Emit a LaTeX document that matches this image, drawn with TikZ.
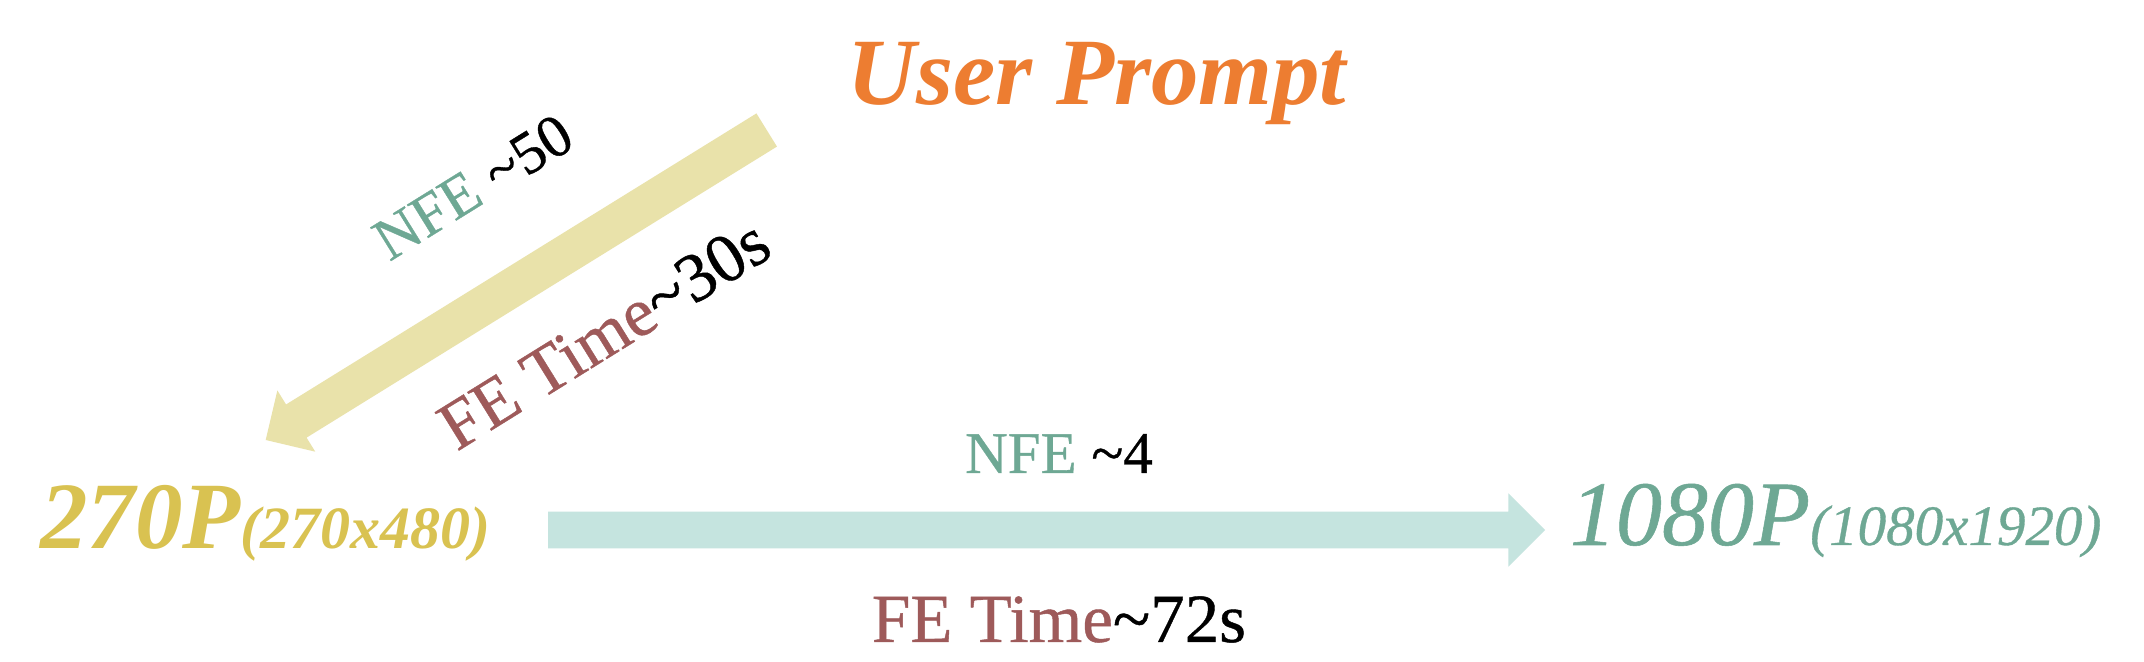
\documentclass[tikz,border=0pt]{standalone}
\usepackage{fontspec}
\setmainfont{Liberation Serif}
\newfontfamily\lblfont[FakeBold=0.6]{Liberation Serif}
\usetikzlibrary{calc}
\definecolor{orangeC}{HTML}{ED7D31}
\definecolor{yarrowC}{HTML}{E9E2AA}
\definecolor{tarrowC}{HTML}{C5E4DF}
\definecolor{goldC}{HTML}{D9C251}
\definecolor{tealC}{HTML}{6EA894}
\definecolor{brownC}{HTML}{9E5A5A}
\newcommand{\fsz}[1]{\fontsize{#1}{#1}\selectfont}
\begin{document}
\begin{tikzpicture}[x=0.5pt,y=-0.5pt,
  lbl/.style={inner sep=0pt, outer sep=0pt}]
\fill[white] (0,0) rectangle (2144,662);
\useasboundingbox (0,0) rectangle (2144,662);

% texts
\node[lbl, anchor=base, text=orangeC, font={\bfseries\itshape\fsz{47.5}}] (prompt) at (1097,105) {User Prompt};
\node[lbl, anchor=base west, text=goldC, font={\bfseries\itshape}] (low) at (40,549) {{\fsz{47.5}270P}{\fsz{30}(270x480)}};
\node[lbl, anchor=base west, text=tealC, font={\lblfont\itshape}] (high) at (1570,545) {{\fsz{46}1080P}{\fsz{28.5}(1080x1920)}};

% diagonal arrow
\coordinate (ytail) at (766.7,130);
\coordinate (ytip) at (265.7,440);
\coordinate (yhb) at ($(ytip)!18pt!(ytail)$);
\fill[yarrowC] ($(ytail)!9.75pt!90:(ytip)$) -- ($(yhb)!9.75pt!90:(ytip)$) -- ($(yhb)!18pt!90:(ytip)$) -- (ytip)
  -- ($(yhb)!18pt!-90:(ytip)$) -- ($(yhb)!9.75pt!-90:(ytip)$) -- ($(ytail)!9.75pt!-90:(ytip)$) -- cycle;

% horizontal arrow
\coordinate (htail) at (548,530);
\coordinate (htip) at (1545,530);
\coordinate (hhb) at ($(htip)!18.3pt!(htail)$);
\fill[tarrowC] ($(htail)!9.2pt!90:(htip)$) -- ($(hhb)!9.2pt!90:(htip)$) -- ($(hhb)!18.3pt!90:(htip)$) -- (htip)
  -- ($(hhb)!18.3pt!-90:(htip)$) -- ($(hhb)!9.2pt!-90:(htip)$) -- ($(htail)!9.2pt!-90:(htip)$) -- cycle;

% labels
\node[lbl, rotate=31.8, font={\lblfont\fsz{30}}] (nfe1) at (473,187) {\textcolor{tealC}{NFE} \textasciitilde50};
\node[lbl, rotate=31.8, font={\lblfont\fsz{34.5}}] (fe1) at (604,334) {\textcolor{brownC}{FE Time}\textasciitilde30s};
\node[lbl, anchor=base, font={\lblfont\fsz{29.5}}] (nfe2) at (1059,473) {\textcolor{tealC}{NFE} \textasciitilde4};
\node[lbl, anchor=base, font={\lblfont\fsz{34.5}}] (fe2) at (1059,642) {\textcolor{brownC}{FE Time}\textasciitilde72s};
\end{tikzpicture}
\end{document}
